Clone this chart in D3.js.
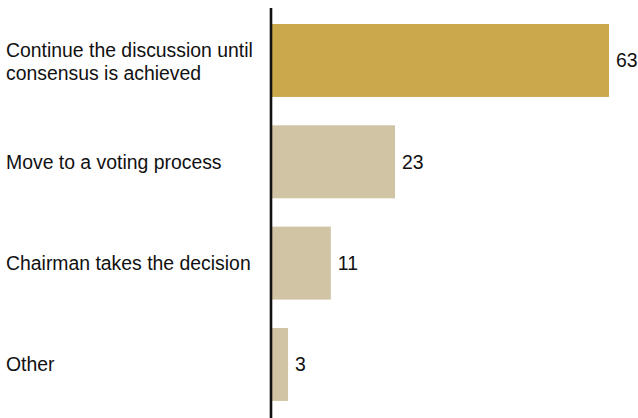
<!DOCTYPE html>
<html>
<head>
<meta charset="utf-8">
<script src="https://cdn.jsdelivr.net/npm/d3@7"></script>
<style>
  html, body { margin: 0; padding: 0; background: #ffffff; }
  svg { display: block; }
  text { font-family: "Liberation Sans", Arial, sans-serif; fill: #111; }
</style>
</head>
<body>
<svg id="chart" width="638" height="418"></svg>
<script>
// Responses: how should the board resolve a disagreement?
const categories = [
  ["Continue the discussion until", "consensus is achieved"],
  ["Move to a voting process"],
  ["Chairman takes the decision"],
  ["Other"]
];
const values = [63, 23, 11, 3];
const barColors = ["#caa84b", "#d1c4a4", "#d1c4a4", "#d1c4a4"];

const svg = d3.select("#chart");
const fontSize = 19.4;

const keys = categories.map((c, i) => i);

const x = d3.scaleLinear()
  .domain([0, 63])
  .range([272, 609]);

const y = d3.scaleBand()
  .domain(keys)
  .range([9.8, 415.1])
  .paddingInner(0.28)
  .paddingOuter(0.14);

// Bars
svg.append("g")
  .selectAll("rect")
  .data(values)
  .join("rect")
  .attr("x", x(0) - 1)
  .attr("y", (d, i) => y(i))
  .attr("width", d => x(d) - x(0) + 1)
  .attr("height", y.bandwidth())
  .attr("fill", (d, i) => barColors[i]);

// Value labels
svg.append("g")
  .selectAll("text")
  .data(values)
  .join("text")
  .attr("x", d => x(d) + 7)
  .attr("y", (d, i) => y(i) + y.bandwidth() / 2)
  .attr("dy", "0.35em")
  .style("font-size", fontSize + "px")
  .text(d => d);

// Category labels (may wrap to two lines)
const lineHeight = 22.2;
const labels = svg.append("g")
  .selectAll("text")
  .data(categories)
  .join("text")
  .attr("x", 6)
  .attr("y", (d, i) => y(i) + y.bandwidth() / 2)
  .style("font-size", fontSize + "px");

labels.each(function(lines) {
  const t = d3.select(this);
  const offset = -(lines.length - 1) * (lineHeight / 2 - 1.2);
  lines.forEach((line, j) => {
    t.append("tspan")
      .attr("x", 6)
      .attr("dy", j === 0 ? (offset + fontSize * 0.35) + "px" : lineHeight + "px")
      .text(line);
  });
});

// Baseline axis
svg.append("line")
  .attr("x1", 271)
  .attr("x2", 271)
  .attr("y1", 8)
  .attr("y2", 418)
  .attr("stroke", "#111")
  .attr("stroke-width", 2.6);
</script>
</body>
</html>
